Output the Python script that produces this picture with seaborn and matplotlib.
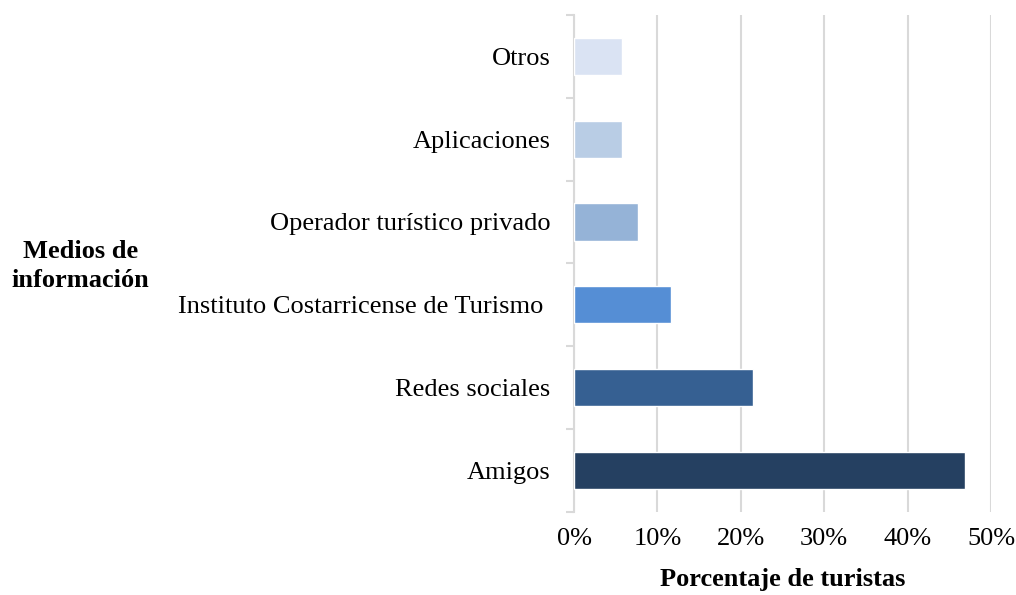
import matplotlib
matplotlib.use("Agg")
import matplotlib.pyplot as plt
import seaborn as sns
import pandas as pd
from matplotlib.ticker import PercentFormatter, FixedLocator

categories = ["Otros", "Aplicaciones", "Operador turístico privado",
              "Instituto Costarricense de Turismo ", "Redes sociales", "Amigos"]
values = [0.057, 0.057, 0.077, 0.116, 0.214, 0.469]
colors = ["#DAE3F3", "#B9CDE5", "#95B3D7", "#558ED5", "#366092", "#254061"]
xticks = [0.0, 0.1, 0.2, 0.3, 0.4, 0.5]

sns.set_theme(style="white")
plt.rcParams["font.family"] = ["Liberation Serif", "DejaVu Serif"]
plt.rcParams["text.color"] = "black"
plt.rcParams["axes.labelcolor"] = "black"

FS = 19

df = pd.DataFrame({"cat": categories, "val": values})

fig = plt.figure(figsize=(10.16, 5.95), dpi=100)
ax = fig.add_axes([0.565, 0.1403, 0.9754 - 0.565, 0.9748 - 0.1403])

sns.barplot(data=df, x="val", y="cat", hue="cat", palette=colors, legend=False,
            width=0.45, saturation=1, ax=ax, zorder=3)

ax.set_xlim(0, 0.5)
ax.set_ylim(len(categories) - 0.5, -0.5)
ax.xaxis.set_major_locator(FixedLocator(xticks))
ax.xaxis.set_major_formatter(PercentFormatter(1.0, decimals=0))
ax.grid(axis="x", color="#D9D9D9", linewidth=1.5, zorder=0)
ax.grid(axis="y", visible=False)

for s in ["top", "right", "bottom"]:
    ax.spines[s].set_visible(False)
ax.spines["left"].set_color("#D9D9D9")
ax.spines["left"].set_linewidth(1.5)

ax.tick_params(axis="x", length=0, pad=12, labelsize=FS, colors="black")
ax.tick_params(axis="y", which="major", length=0, pad=17, labelsize=FS, colors="black")
ax.set_yticks([i + 0.5 for i in range(-1, len(categories))], minor=True)
ax.tick_params(axis="y", which="minor", left=True, length=6, width=1.5,
               color="#D9D9D9", direction="out")

ax.set_xlabel("Porcentaje de turistas", fontsize=FS, fontweight="bold", labelpad=13,
              color="black")
ax.set_ylabel("")
fig.text(0.079, 0.553, "Medios de\ninformación", ha="center", va="center",
         fontsize=FS, fontweight="bold", linespacing=1.3, color="black")

fig.savefig("out.png", dpi=100)
